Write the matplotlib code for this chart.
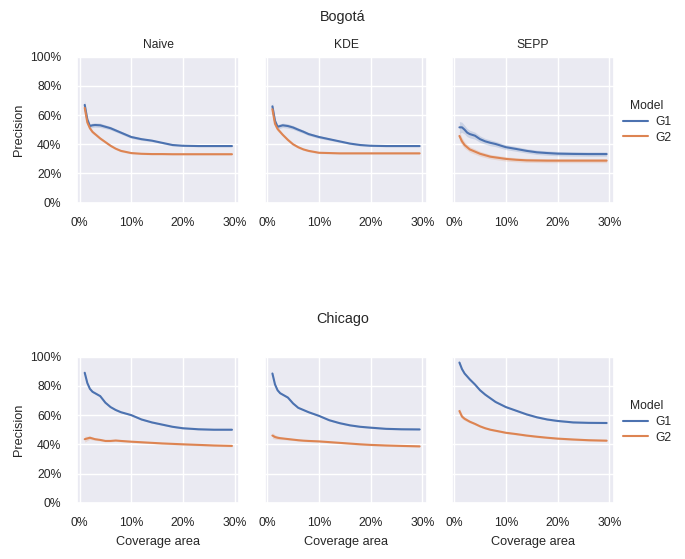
import numpy as np
import matplotlib
matplotlib.use("Agg")
import matplotlib.pyplot as plt
import seaborn as sns
from matplotlib.ticker import PercentFormatter
from matplotlib.lines import Line2D

sns.set_theme(style="darkgrid")
plt.rcParams['font.family'] = ['Liberation Sans', 'DejaVu Sans']

# coverage area (fraction of city)
coverage = [0.01, 0.015, 0.02, 0.025, 0.03, 0.04, 0.05, 0.06, 0.07, 0.08,
            0.10, 0.12, 0.14, 0.16, 0.18, 0.20, 0.23, 0.26, 0.295]

cities = ['Bogotá', 'Chicago']
methods = ['Naive', 'KDE', 'SEPP']
groups = ['G1', 'G2']

# precision in %
bog_naive_g1 = [67, 57, 52.5, 53, 53.2, 53, 52, 51, 49.5, 48, 45, 43.5, 42.5, 41, 39.5, 39, 38.8, 38.8, 38.8]
bog_naive_g2 = [65, 55, 51, 48.5, 47, 44, 41.5, 39, 37, 35.5, 34, 33.5, 33.3, 33.3, 33.2, 33.2, 33.2, 33.2, 33.2]
bog_kde_g1 = [66, 56, 52, 52.5, 53, 52.5, 51.5, 50, 48.6, 47, 45, 43.5, 42, 40.5, 39.5, 39, 38.8, 38.8, 38.8]
bog_kde_g2 = [64, 54, 50.5, 48.5, 46.5, 43, 40, 38, 36.5, 35.5, 34.2, 34, 33.8, 33.8, 33.8, 33.8, 33.8, 33.8, 33.8]
bog_sepp_g1 = [51.6, 51.6, 50, 48, 47, 45.9, 43.5, 42, 41, 40.2, 38, 36.8, 35.5, 34.5, 34, 33.6, 33.4, 33.3, 33.3]
bog_sepp_g2 = [45.7, 42, 39.5, 38, 36.5, 35, 33.5, 32.5, 31.5, 31, 30, 29.4, 29, 28.9, 28.8, 28.8, 28.8, 28.8, 28.8]

chi_naive_g1 = [89, 82, 78, 76, 75, 73, 68.5, 65.5, 63.5, 62, 60, 57, 55, 53.5, 52, 51, 50.3, 50, 50]
chi_naive_g2 = [43.5, 44, 44.5, 44, 43.5, 43, 42.3, 42.3, 42.6, 42.3, 41.8, 41.4, 41, 40.6, 40.3, 40, 39.6, 39.2, 38.9]
chi_kde_g1 = [88.5, 81, 77, 75, 74, 72, 68, 65, 63.5, 62, 59.5, 56.5, 54.5, 53, 52, 51.4, 50.6, 50.3, 50.2]
chi_kde_g2 = [46, 45, 44.5, 44.2, 44, 43.6, 43.2, 42.8, 42.5, 42.3, 42, 41.5, 41, 40.5, 40, 39.6, 39.2, 38.9, 38.6]
chi_sepp_g1 = [96, 91.5, 88.5, 86.5, 84.5, 81, 77, 74, 71.5, 69, 65.5, 63, 60.5, 58.5, 57, 56, 55, 54.7, 54.6]
chi_sepp_g2 = [62.8, 59, 57.5, 56.5, 55.5, 54, 52.3, 51, 50, 49.3, 47.9, 47, 46, 45.2, 44.5, 43.9, 43.3, 42.8, 42.5]

# half width of the confidence band, in %
bog_band_g1 = [3, 2, 1.5, 1.5, 1.5, 1.5, 1.3, 1.2, 1.1, 1, 1, 0.8, 0.7, 0.6, 0.6, 0.5, 0.5, 0.5, 0.5]
bog_band_g2 = [2.5, 2, 1.5, 1.2, 1, 1, 0.8, 0.8, 0.7, 0.7, 0.6, 0.5, 0.5, 0.5, 0.5, 0.5, 0.5, 0.5, 0.5]
sepp_band_g1 = [4, 3.5, 3, 2.8, 2.6, 2.4, 2.2, 2, 2, 1.8, 1.7, 1.6, 1.5, 1.5, 1.5, 1.5, 1.5, 1.5, 1.5]
sepp_band_g2 = [3, 2.5, 2.2, 2, 1.9, 1.8, 1.7, 1.6, 1.5, 1.5, 1.5, 1.4, 1.4, 1.4, 1.4, 1.4, 1.4, 1.4, 1.4]
chi_band_g1 = [1, 0.8, 0.6, 0.6, 0.5, 0.5, 0.5, 0.5, 0.5, 0.5, 0.5, 0.5, 0.5, 0.5, 0.5, 0.5, 0.5, 0.5, 0.5]
chi_band_g2 = [2, 1.5, 1.2, 1, 0.8, 0.7, 0.6, 0.6, 0.6, 0.6, 0.6, 0.6, 0.6, 0.6, 0.6, 0.6, 0.6, 0.6, 0.6]

values = {
    ('Bogotá', 'Naive'): (bog_naive_g1, bog_naive_g2, bog_band_g1, bog_band_g2),
    ('Bogotá', 'KDE'): (bog_kde_g1, bog_kde_g2, bog_band_g1, bog_band_g2),
    ('Bogotá', 'SEPP'): (bog_sepp_g1, bog_sepp_g2, sepp_band_g1, sepp_band_g2),
    ('Chicago', 'Naive'): (chi_naive_g1, chi_naive_g2, chi_band_g1, chi_band_g2),
    ('Chicago', 'KDE'): (chi_kde_g1, chi_kde_g2, chi_band_g1, chi_band_g2),
    ('Chicago', 'SEPP'): (chi_sepp_g1, chi_sepp_g2, chi_band_g1, chi_band_g2),
}

colors = ['#4C72B0', '#DD8452']
tick_fs = 8.7
label_fs = 9.2
dark = '#262626'

fig = plt.figure(figsize=(6.85, 5.59), dpi=100)
lefts = [0.1129, 0.3869, 0.6599]
bottoms = {'Bogotá': 0.6374, 'Chicago': 0.1007}
title_gap = {'Bogotá': 35.5, 'Chicago': 34}
w, h = 0.2365, 0.2612
x = np.array(coverage)

for city in cities:
    for j, method in enumerate(methods):
        ax = fig.add_axes([lefts[j], bottoms[city], w, h])
        g1, g2, b1, b2 = values[(city, method)]
        for k, (vals, band) in enumerate([(g1, b1), (g2, b2)]):
            y = np.array(vals) / 100
            b = np.array(band) / 100
            ax.fill_between(x, y - b, y + b, color=colors[k], alpha=0.2, lw=0)
            ax.plot(x, y, color=colors[k], lw=1.5)
        ax.set_ylim(0, 1)
        ax.set_xlim(-0.0043, 0.3093)
        ax.set_xticks([0, 0.1, 0.2, 0.3])
        ax.set_yticks([0, 0.2, 0.4, 0.6, 0.8, 1.0])
        ax.xaxis.set_major_formatter(PercentFormatter(1.0, decimals=0))
        ax.yaxis.set_major_formatter(PercentFormatter(1.0, decimals=0))
        ax.tick_params(axis='x', labelsize=tick_fs, length=0, pad=10, colors=dark)
        ax.tick_params(axis='y', labelsize=tick_fs, length=0, pad=11.5, colors=dark)
        if j == 0:
            ax.set_ylabel('Precision', fontsize=label_fs, labelpad=4, color=dark)
        else:
            ax.tick_params(labelleft=False)
        if city == 'Bogotá':
            ax.set_title(method, fontsize=tick_fs, pad=6, color=dark)
        else:
            ax.set_xlabel('Coverage area', fontsize=label_fs, labelpad=5.5, color=dark)

    # city heading and legend
    ytop = bottoms[city] + h
    fig.text(0.5, ytop + title_gap[city] / 559, city, ha='center', va='baseline',
             fontsize=10.4, color=dark)
    handles = [Line2D([], [], color=colors[k], lw=1.5) for k in range(2)]
    leg = fig.legend(handles, groups, title='Model', loc='center left',
                     bbox_to_anchor=(0.893, bottoms[city] + h * 0.553),
                     frameon=False, fontsize=tick_fs, title_fontsize=tick_fs,
                     handlelength=2.1, handletextpad=0.6, labelspacing=0.3)
    for t in leg.get_texts():
        t.set_color(dark)
    leg.get_title().set_color(dark)

fig.savefig('out.png', dpi=100)
